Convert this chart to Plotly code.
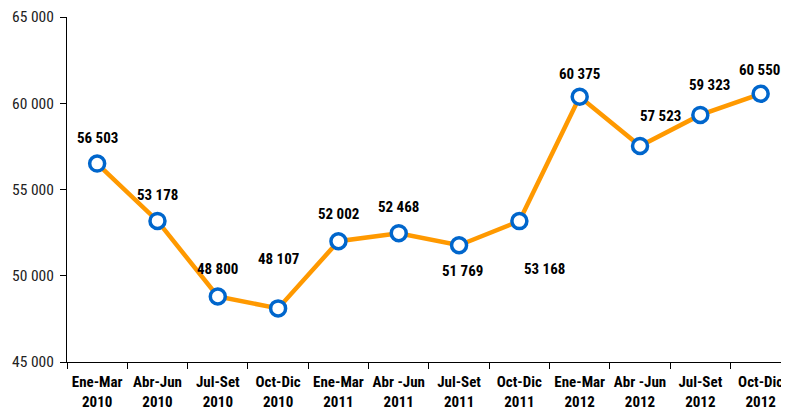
import plotly.graph_objects as go

categories = ["Ene-Mar<br>2010", "Abr-Jun<br>2010", "Jul-Set<br>2010", "Oct-Dic<br>2010",
              "Ene-Mar<br>2011", "Abr -Jun<br>2011", "Jul-Set<br>2011", "Oct-Dic<br>2011",
              "Ene-Mar<br>2012", "Abr -Jun<br>2012", "Jul-Set<br>2012", "Oct-Dic<br>2012"]
values = [56503, 53178, 48800, 48107, 52002, 52468, 51769, 53168, 60375, 57523, 59323, 60550]
value_labels = ["56 503", "53 178", "48 800", "48 107", "52 002", "52 468",
                "51 769", "53 168", "60 375", "57 523", "59 323", "60 550"]
y_tickvals = [45000, 50000, 55000, 60000, 65000]
y_ticktext = ["45 000", "50 000", "55 000", "60 000", "65 000"]

# label offsets (px) relative to points
offsets = [(0, 26), (0, 26), (0, 27), (0, 49), (0, 27), (0, 26),
           (3, -26), (25, -48), (0, 23), (20, 30), (9, 30), (-1, 24)]

FONT = "Roboto Condensed, Roboto, sans-serif"

fig = go.Figure()
fig.add_trace(go.Scatter(
    x=list(range(len(categories))), y=values, mode="lines+markers",
    line=dict(color="#FF9900", width=4.5),
    marker=dict(size=15, color="white", line=dict(color="#0066CC", width=3.5)),
    hoverinfo="skip",
))

for i, (v, t) in enumerate(zip(values, value_labels)):
    dx, dy = offsets[i]
    fig.add_annotation(x=i, y=v, text="<b>" + t + "</b>", showarrow=False,
                       xshift=dx, yshift=dy,
                       font=dict(family=FONT, size=15, color="black"))

# page body has an 8px default margin: compensate so the plot lands where the reference has it
fig.update_layout(
    width=781, height=405,
    margin=dict(l=59, r=0, t=9, b=51),
    paper_bgcolor="white", plot_bgcolor="white",
    showlegend=False,
    font=dict(family=FONT, size=16, color="black"),
)
fig.update_xaxes(
    range=[-0.5, 11.47], automargin=False,
    tickvals=list(range(len(categories))), ticktext=["<b>" + c + "</b>" for c in categories],
    showline=True, linecolor="black", linewidth=1,
    ticks="", showgrid=False, zeroline=False, ticklabelstandoff=6,
    tickfont=dict(family=FONT, size=15, color="black"),
)
fig.update_xaxes(minor=dict(tickvals=[k - 0.5 for k in range(len(categories) + 1)],
                            ticks="outside", ticklen=6, tickcolor="black", tickwidth=1, showgrid=False))
fig.update_yaxes(
    range=[45000, 65000], tickvals=y_tickvals, ticktext=y_ticktext, automargin=False,
    ticklabeloverflow="allow", ticklabelstandoff=3,
    showline=True, linecolor="black", linewidth=1,
    ticks="outside", ticklen=6, tickcolor="black",
    showgrid=False, zeroline=False,
    tickfont=dict(family=FONT, size=15.5, color="#222222"),
)

fig.write_html("out.html")
